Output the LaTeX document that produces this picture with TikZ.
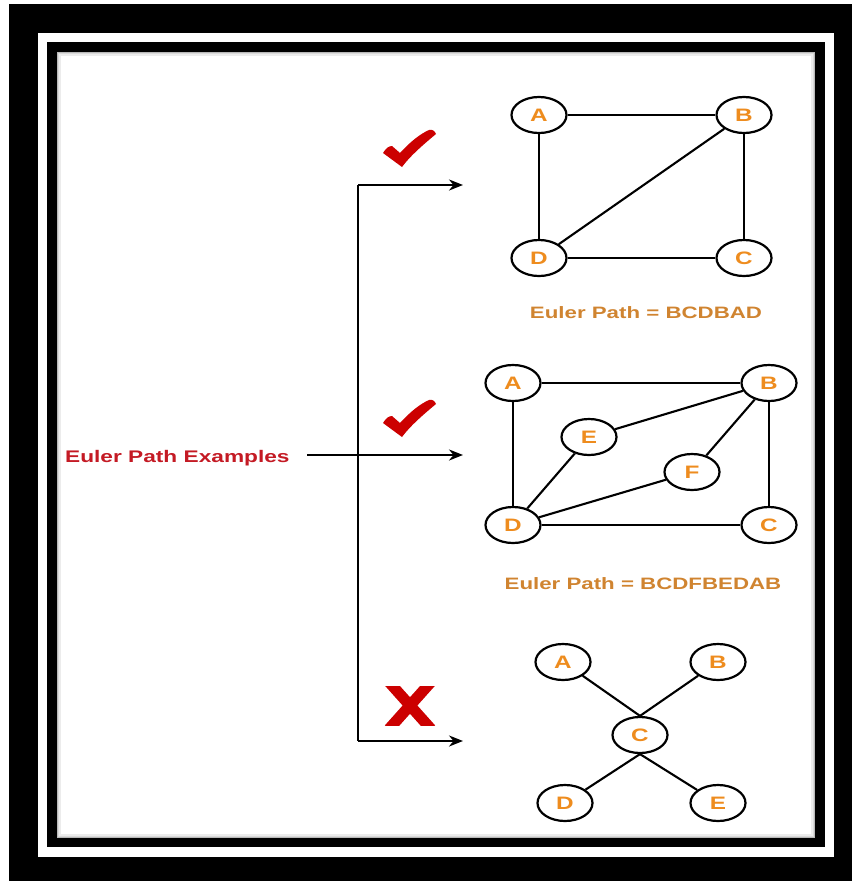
\documentclass[tikz,border=0pt]{standalone}
\usepackage{fontspec}
\setmainfont{Liberation Sans}
\newfontfamily\lblfont[FakeStretch=1.35]{Liberation Sans}
\usetikzlibrary{shapes.geometric,arrows.meta}
\definecolor{nodeorange}{RGB}{238,140,30}
\definecolor{capbrown}{RGB}{208,132,48}
\definecolor{titlered}{RGB}{196,26,36}
\definecolor{markred}{RGB}{204,0,0}
\tikzset{
  gnode/.style={draw=black, line width=2.2pt, ellipse, minimum width=55pt, minimum height=36pt,
    inner sep=0pt, fill=white, text=nodeorange, font=\lblfont\bfseries\fontsize{18}{20}\selectfont},
  gedge/.style={line width=2.1pt},
  caption/.style={text=capbrown, font=\lblfont\bfseries\fontsize{16.5}{18}\selectfont, inner sep=0pt},
  arr/.style={line width=2pt, -{Stealth[length=14pt,width=11pt]}},
  conn/.style={line width=2pt},
}
\begin{document}
\begin{tikzpicture}[x=1pt,y=-1pt]
\useasboundingbox (0,0) rectangle (852,881);
% frame
\fill[white] (0,0) rectangle (852,881);
\fill[black] (9,4) rectangle (852,881);
\fill[white] (38,33) rectangle (834,857);
\fill[black] (47,42) rectangle (825,847);
\fill[white] (57,52) rectangle (815,838);
\draw[gray!55, line width=1pt] (57.5,52.5) rectangle (814.5,837.5);
\draw[gray!30, line width=1pt] (58.5,53.5) rectangle (813.5,836.5);
\draw[gray!15, line width=1.5pt] (60,55) rectangle (812,835);

% title
\node[text=titlered, font=\lblfont\bfseries\fontsize{16.8}{18}\selectfont, inner sep=0pt, anchor=west] (title) at (65,458) {Euler Path Examples};

% connectors
\coordinate (mstart) at (307,455);
\coordinate (mtip) at (463,455);
\coordinate (vtop) at (358,185);
\coordinate (vbot) at (358,741);
\coordinate (ttip) at (463,185);
\coordinate (btip) at (463,741);
\draw[arr] (mstart) -- (mtip);
\draw[conn] (vtop) -- (vbot);
\draw[arr] (vtop) -- (ttip);
\draw[arr] (vbot) -- (btip);

% check marks
\fill[markred] (383,153) .. controls (386,148) and (389,146) .. (392,146) -- (400,153)
  .. controls (410,142) and (420,134) .. (429,130) .. controls (432,129) and (435,131) .. (436,134)
  .. controls (424,144) and (410,156) .. (402,167) -- cycle;
\fill[markred] (383,423) .. controls (386,418) and (389,416) .. (392,416) -- (400,423)
  .. controls (410,412) and (420,404) .. (429,400) .. controls (432,399) and (435,401) .. (436,404)
  .. controls (424,414) and (410,426) .. (402,437) -- cycle;
% cross
\begin{scope}
\clip (384,686) rectangle (436,725);
\draw[markred, line width=11pt] (389,682) -- (431,729);
\draw[markred, line width=11pt] (431,682) -- (389,729);
\end{scope}

% graph 1
\node[gnode] (a1) at (539,115) {A};
\node[gnode] (b1) at (744,115) {B};
\node[gnode] (c1) at (744,258) {C};
\node[gnode] (d1) at (539,258) {D};
\draw[gedge] (a1) -- (b1);
\draw[gedge] (a1) -- (d1);
\draw[gedge] (b1) -- (c1);
\draw[gedge] (d1) -- (c1);
\draw[gedge] (d1) -- (b1);
\node[caption] (cap1) at (646,313) {Euler Path = BCDBAD};

% graph 2
\node[gnode] (a2) at (513,383) {A};
\node[gnode] (b2) at (769,383) {B};
\node[gnode] (c2) at (769,525) {C};
\node[gnode] (d2) at (513,525) {D};
\node[gnode] (e2) at (589,437) {E};
\node[gnode] (f2) at (692,472) {F};
\draw[gedge] (a2) -- (b2);
\draw[gedge] (a2) -- (d2);
\draw[gedge] (b2) -- (c2);
\draw[gedge] (d2) -- (c2);
\draw[gedge] (b2) -- (e2);
\draw[gedge] (b2) -- (f2);
\draw[gedge] (d2) -- (e2);
\draw[gedge] (d2) -- (f2);
\node[caption] (cap2) at (643,584) {Euler Path = BCDFBEDAB};

% graph 3
\node[gnode] (a3) at (563,662) {A};
\node[gnode] (b3) at (718,662) {B};
\node[gnode] (c3) at (640,735) {C};
\node[gnode] (d3) at (565,803) {D};
\node[gnode] (e3) at (718,803) {E};
\draw[gedge] (a3) -- (c3.north);
\draw[gedge] (b3) -- (c3.north);
\draw[gedge] (c3.south) -- (d3);
\draw[gedge] (c3.south) -- (e3);
\end{tikzpicture}
\end{document}
